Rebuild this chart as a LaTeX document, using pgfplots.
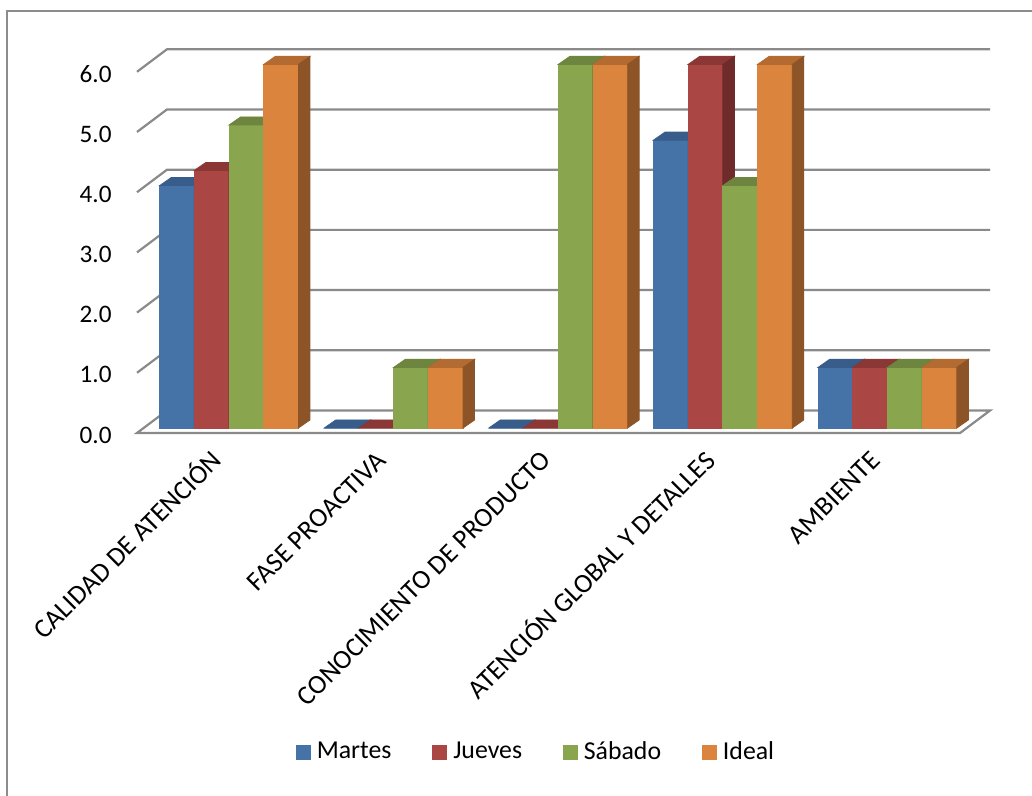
\documentclass[border=0pt]{standalone}
\usepackage{pgfplots}
\usepackage{pgfplotstable}
\pgfplotsset{compat=1.18}
\usepackage{fontspec}
\setmainfont{Carlito}
\definecolor{cB}{HTML}{4572A7}
\definecolor{cBt}{HTML}{385D8A}
\definecolor{cBs}{HTML}{2E4B70}
\definecolor{cR}{HTML}{AA4643}
\definecolor{cRt}{HTML}{8A3735}
\definecolor{cRs}{HTML}{6E2B2A}
\definecolor{cG}{HTML}{89A54E}
\definecolor{cGt}{HTML}{6E853F}
\definecolor{cGs}{HTML}{596B32}
\definecolor{cO}{HTML}{DB843D}
\definecolor{cOt}{HTML}{B36B31}
\definecolor{cOs}{HTML}{8C5427}
\definecolor{gridc}{HTML}{8A8A8A}
\definecolor{framec}{HTML}{8C8C8C}

\pgfplotstableread{
x   martes jueves sabado ideal
0.5 4.0    4.25   5.0    6.0
1.5 0      0      1.0    1.0
2.5 0      0      6.0    6.0
3.5 4.75   6.0    4.0    6.0
4.5 1.0    1.0    1.0    1.0
}\datatable

\newcommand\tfont{\fontsize{12.6}{15}\selectfont}
\newcommand\lfont{\fontsize{12.9}{15}\selectfont}
\newcommand\cfont{\fontsize{13.5}{16}\selectfont}
\pgfdeclareplotmark{nothing}{}
% height in canvas: meta transformed (0..1000 for 0..6) * 6*30.3pt/1000
\newcommand\barfaces[4]{%
  \pgfmathsetmacro\hh{\pgfplotspointmetatransformed*0.1818}%
  \fill[#2] (#1-8.675pt,0pt) rectangle (#1+8.675pt,-\hh pt);
  \fill[#3] (#1-8.675pt,0pt) -- (#1+8.675pt,0pt) -- (#1+14.425pt,4pt) -- (#1-2.925pt,4pt) -- cycle;
  \fill[#4] (#1+8.675pt,0pt) -- (#1+14.425pt,4pt) -- (#1+14.425pt,4pt-\hh pt) -- (#1+8.675pt,-\hh pt) -- cycle;}
\pgfplotsset{
  front/.style n args={2}{ybar, bar width=17.35pt, bar shift=#1, fill=#2, draw=none},
  faces/.style n args={4}{scatter, only marks, mark=nothing, point meta=y,
    scatter/@pre marker code/.code={\barfaces{#1}{#2}{#3}{#4}},
    scatter/@post marker code/.code={}},
  sq/.style={legend image code/.code={\fill[#1] (0pt,-3.5pt) rectangle (7pt,3.5pt);}}
}

\begin{document}
\begin{tikzpicture}
\useasboundingbox (0,0) rectangle (516pt,398pt);
\draw[framec, line width=0.9pt] (3.5pt,392.5pt) rectangle (530pt,-10pt);

% background: walls, grid, labels, legend
\begin{axis}[
  anchor=origin, at={(68.5pt,181.5pt)},
  x=82.3pt, y=30.1pt,
  xmin=0, xmax=5, ymin=0, ymax=6,
  clip=false,
  axis line style={draw=none},
  tick style={draw=none},
  major tick length=0pt,
  xtick=\empty,
  ytick={0,1,...,6},
  /pgf/number format/assume math mode=true,
  yticklabel={\pgfmathprintnumber[fixed, fixed zerofill, precision=1]{\tick}},
  yticklabel style={inner sep=0pt, anchor=east, font=\tfont, yshift=-1pt},
  yticklabel shift=12.5pt,
  legend style={at={(0.4873,-0.883)}, anchor=center, draw=none, fill=none,
    font=\lfont, legend columns=4,
    nodes={inner xsep=3pt},
    /tikz/every even column/.append style={column sep=17.5pt}},
]
\draw[gridc, line width=1.1pt, fill=white] (axis cs:0,0) -- (axis cs:5,0)
   -- ([shift={(15pt,11.25pt)}]axis cs:5,0) -- ([shift={(15pt,11.25pt)}]axis cs:0,0) -- cycle;
\pgfplotsinvokeforeach{1,2,3,4,5,6}{
  \draw[gridc, line width=1.1pt] (axis cs:0,#1) -- ([shift={(15pt,11.25pt)}]axis cs:0,#1)
     -- ([shift={(15pt,11.25pt)}]axis cs:5,#1);
}
\node[anchor=base east, rotate=45, inner sep=0pt, font=\cfont] at ([shift={(2pt,-14.5pt)}]axis cs:0.5,0) {CALIDAD DE ATENCIÓN};
\node[anchor=base east, rotate=45, inner sep=0pt, font=\cfont] at ([shift={(2pt,-14.5pt)}]axis cs:1.5,0) {FASE PROACTIVA};
\node[anchor=base east, rotate=45, inner sep=0pt, font=\cfont] at ([shift={(2pt,-14.5pt)}]axis cs:2.5,0) {CONOCIMIENTO DE PRODUCTO};
\node[anchor=base east, rotate=45, inner sep=0pt, font=\cfont] at ([shift={(2pt,-14.5pt)}]axis cs:3.5,0) {ATENCIÓN GLOBAL Y DETALLES};
\node[anchor=base east, rotate=45, inner sep=0pt, font=\cfont] at ([shift={(2pt,-14.5pt)}]axis cs:4.5,0) {AMBIENTE};
\addlegendimage{sq=cB}\addlegendentry{Martes}
\addlegendimage{sq=cR}\addlegendentry{Jueves}
\addlegendimage{sq=cG}\addlegendentry{Sábado}
\addlegendimage{sq=cO}\addlegendentry{Ideal}
\end{axis}

% columns: front faces as bars, then each column drawn whole (front, top, side) in series order
\begin{axis}[
  anchor=origin, at={(73.375pt,184pt)},
  x=82.3pt, y=30.3pt,
  xmin=0, xmax=5, ymin=0, ymax=6,
  point meta min=0, point meta max=6,
  clip=false, hide axis,
]
\addplot[front={-26.025pt}{cB}] table[x=x, y=martes]{\datatable};
\addplot[front={-8.675pt}{cR}] table[x=x, y=jueves]{\datatable};
\addplot[front={8.675pt}{cG}] table[x=x, y=sabado]{\datatable};
\addplot[front={26.025pt}{cO}] table[x=x, y=ideal]{\datatable};
\addplot[faces={-26.025pt}{cB}{cBt}{cBs}] table[x=x, y=martes]{\datatable};
\addplot[faces={-8.675pt}{cR}{cRt}{cRs}] table[x=x, y=jueves]{\datatable};
\addplot[faces={8.675pt}{cG}{cGt}{cGs}] table[x=x, y=sabado]{\datatable};
\addplot[faces={26.025pt}{cO}{cOt}{cOs}] table[x=x, y=ideal]{\datatable};
\end{axis}
\end{tikzpicture}
\end{document}
